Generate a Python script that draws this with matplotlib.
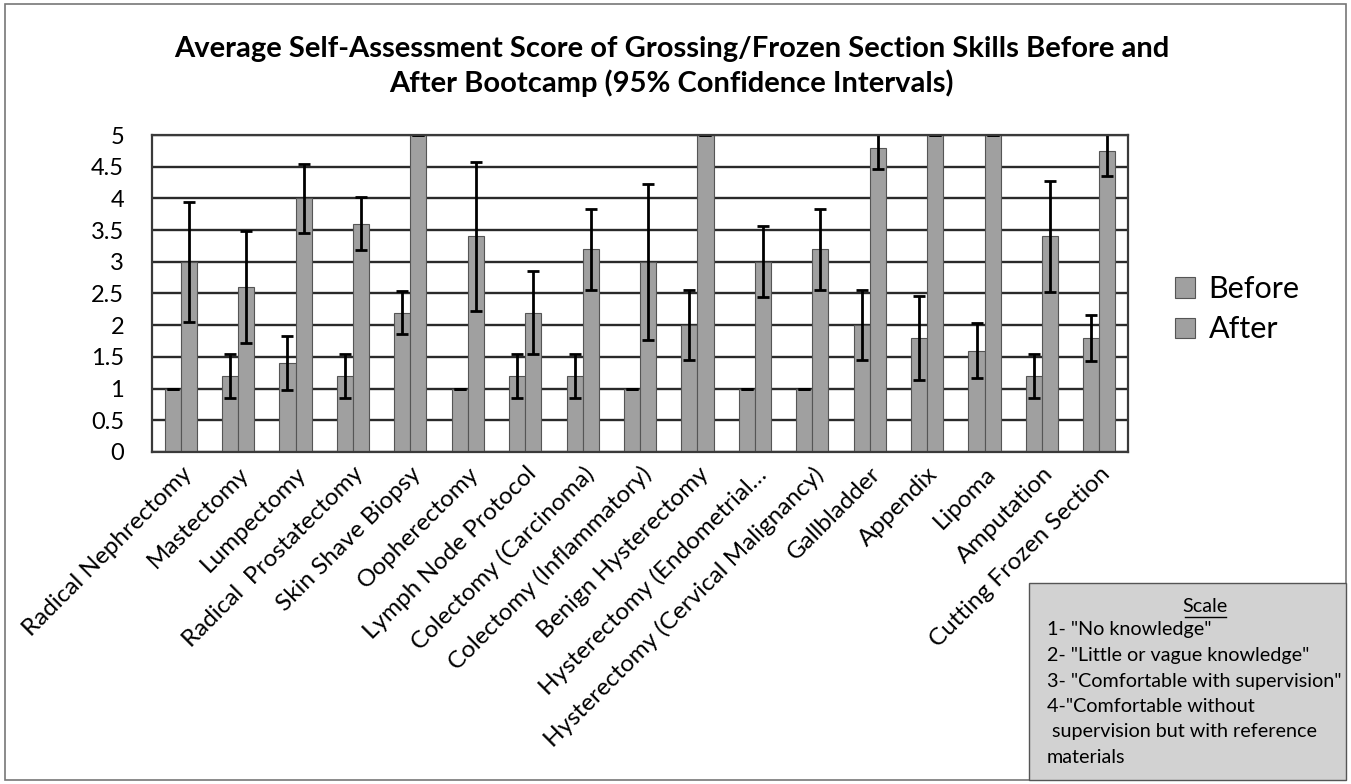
import numpy as np
import matplotlib
matplotlib.use('Agg')
import matplotlib.pyplot as plt
from matplotlib.patches import Rectangle

plt.rcParams['font.family'] = ['Lato', 'DejaVu Sans']

categories = ['Radical Nephrectomy', 'Mastectomy', 'Lumpectomy', 'Radical  Prostatectomy',
              'Skin Shave Biopsy', 'Oopherectomy', 'Lymph Node Protocol', 'Colectomy (Carcinoma)',
              'Colectomy (Inflammatory)', 'Benign Hysterectomy', 'Hysterectomy (Endometrial\u2026',
              'Hysterectomy (Cervical Malignancy)', 'Gallbladder', 'Appendix', 'Lipoma',
              'Amputation', 'Cutting Frozen Section']
before = [1, 1.2, 1.4, 1.2, 2.2, 1, 1.2, 1.2, 1, 2, 1, 1, 2, 1.8, 1.6, 1.2, 1.8]
before_ci = [0, 0.35, 0.43, 0.35, 0.34, 0, 0.35, 0.35, 0, 0.55, 0, 0, 0.55, 0.66, 0.43, 0.35, 0.36]
after = [3, 2.6, 4, 3.6, 5, 3.4, 2.2, 3.2, 3, 5, 3, 3.2, 4.8, 5, 5, 3.4, 4.75]
after_ci = [0.95, 0.88, 0.55, 0.42, 0, 1.17, 0.66, 0.64, 1.23, 0, 0.56, 0.64, 0.34, 0, 0, 0.88, 0.39]
yticks = [0, 0.5, 1, 1.5, 2, 2.5, 3, 3.5, 4, 4.5, 5]
scale_lines = ['1- "No knowledge"', '2- "Little or vague knowledge"',
               '3- "Comfortable with supervision"', '4-"Comfortable without',
               ' supervision but with reference', 'materials']

fig = plt.figure(figsize=(13.51, 7.84), dpi=100)
ax = fig.add_axes([0.1125, 0.4235, 0.7225, 0.4043])

x = np.arange(len(categories))
w = 0.28
barcol = '#a0a0a0'
ekw = dict(ecolor='black', elinewidth=2, capsize=4, capthick=2)
ax.bar(x - w/2, before, w, color=barcol, edgecolor='#555555', linewidth=0.8,
       yerr=before_ci, error_kw=ekw, label='Before', zorder=2)
ax.bar(x + w/2, after, w, color=barcol, edgecolor='#555555', linewidth=0.8,
       yerr=after_ci, error_kw=ekw, label='After', zorder=2)

ax.set_xlim(-0.5, len(categories) - 0.5)
ax.set_ylim(0, 5)
ax.set_yticks(yticks)
ax.set_yticklabels([f'{v:g}' for v in yticks], fontsize=17)
ax.yaxis.grid(True, color='#2a2a2a', linewidth=1.7, zorder=0)
ax.set_axisbelow(True)
ax.tick_params(axis='y', length=0, pad=20)
ax.tick_params(axis='x', length=0, pad=8)
ax.set_xticks(x)
ax.set_xticklabels(categories, rotation=45, ha='right', rotation_mode='anchor', fontsize=17.5)
for s in ax.spines.values():
    s.set_color('#3a3a3a')
    s.set_linewidth(1.6)

ax.legend(loc='center left', bbox_to_anchor=(1.02, 0.45), frameon=False, fontsize=22,
          handlelength=0.65, handleheight=0.65, handletextpad=0.45, labelspacing=0.4)

fig.text(0.497, 0.915, 'Average Self-Assessment Score of Grossing/Frozen Section Skills Before and\nAfter Bootcamp (95% Confidence Intervals)',
         ha='center', va='center', fontsize=21, fontweight='bold', linespacing=1.3)

# scale box, drawn over the last label
fig.patches.append(Rectangle((1029/1351, 4/784), 317/1351, 197/784, transform=fig.transFigure,
                             facecolor='#d2d2d2', edgecolor='#555555', linewidth=1, zorder=5))
fig.text(1205/1351, 1 - 606/784, 'Scale', ha='center', va='center', fontsize=14.2, zorder=6)
fig.add_artist(plt.Line2D([1185/1351, 1226/1351], [1 - 617/784, 1 - 617/784],
                          color='black', linewidth=1, zorder=6))
for i, line in enumerate(scale_lines):
    fig.text(1047/1351, 1 - (630 + 25.5*i)/784, line, ha='left', va='center', fontsize=14.2, zorder=6)

# outer frame
fig.patches.append(Rectangle((5/1351, 4/784), 1341/1351, 776/784, transform=fig.transFigure,
                             fill=False, edgecolor='#777777', linewidth=1.2))

fig.savefig('out.png', dpi=100)
